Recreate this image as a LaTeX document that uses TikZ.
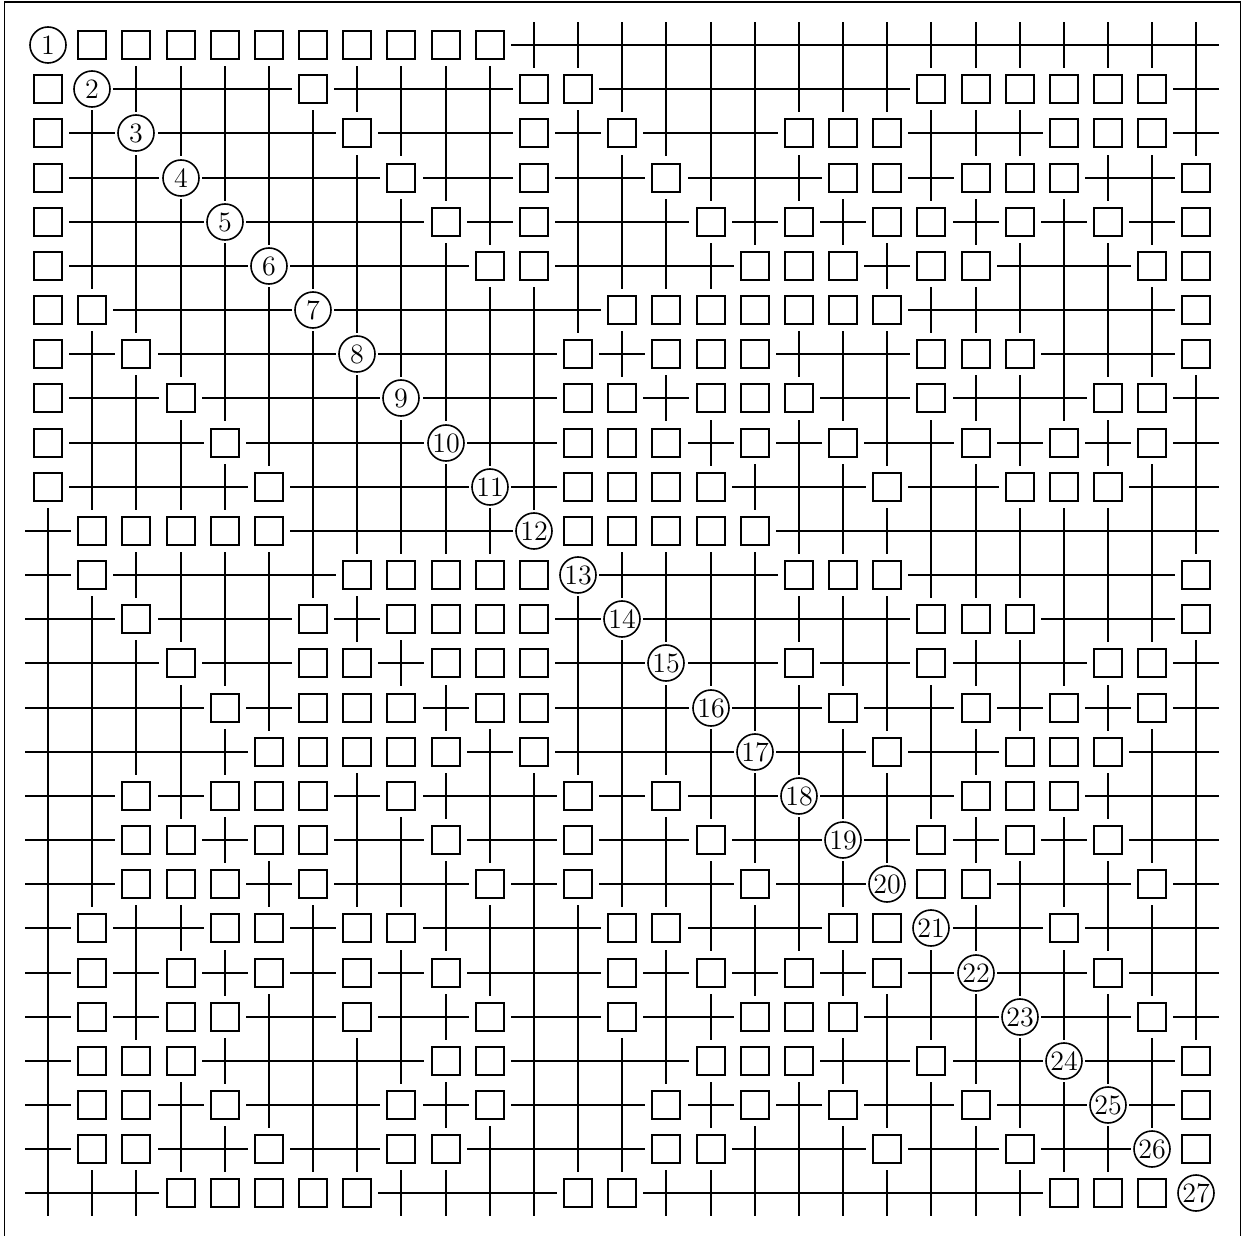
\documentclass[tikz,border=0pt]{standalone}
\begin{document}
\begin{tikzpicture}[x=0.5pt,y=-0.5pt,
  boxnode/.style={draw,rectangle,minimum size=14.2pt,inner sep=0pt,line width=0.8pt},
  circnode/.style={draw,circle,minimum size=18pt,inner sep=0pt,line width=0.8pt,font=\fontsize{14}{16}\selectfont},
  wire/.style={line width=0.8pt,line cap=butt},
  frame/.style={line width=0.9pt}]
\useasboundingbox (0,0) rectangle (1250,1236);
\draw[frame] (4.5,1240) -- (4.5,2) -- (1240.5,2) -- (1240.5,1240);
\foreach \row [count=\i] in {%
{O,B,B,B,B,B,B,B,B,B,B,X,X,X,X,X,X,X,X,X,X,X,X,X,X,X,X},%
{B,O,X,X,X,X,B,X,X,X,X,B,B,X,X,X,X,X,X,X,B,B,B,B,B,B,X},%
{B,X,O,X,X,X,X,B,X,X,X,B,X,B,X,X,X,B,B,B,X,X,X,B,B,B,X},%
{B,X,X,O,X,X,X,X,B,X,X,B,X,X,B,X,X,X,B,B,X,B,B,B,X,X,B},%
{B,X,X,X,O,X,X,X,X,B,X,B,X,X,X,B,X,B,X,B,B,X,B,X,B,X,B},%
{B,X,X,X,X,O,X,X,X,X,B,B,X,X,X,X,B,B,B,X,B,B,X,X,X,B,B},%
{B,B,X,X,X,X,O,X,X,X,X,X,X,B,B,B,B,B,B,B,X,X,X,X,X,X,B},%
{B,X,B,X,X,X,X,O,X,X,X,X,B,X,B,B,B,X,X,X,B,B,B,X,X,X,B},%
{B,X,X,B,X,X,X,X,O,X,X,X,B,B,X,B,B,B,X,X,B,X,X,X,B,B,X},%
{B,X,X,X,B,X,X,X,X,O,X,X,B,B,B,X,B,X,B,X,X,B,X,B,X,B,X},%
{B,X,X,X,X,B,X,X,X,X,O,X,B,B,B,B,X,X,X,B,X,X,B,B,B,X,X},%
{X,B,B,B,B,B,X,X,X,X,X,O,B,B,B,B,B,X,X,X,X,X,X,X,X,X,X},%
{X,B,X,X,X,X,X,B,B,B,B,B,O,X,X,X,X,B,B,B,X,X,X,X,X,X,B},%
{X,X,B,X,X,X,B,X,B,B,B,B,X,O,X,X,X,X,X,X,B,B,B,X,X,X,B},%
{X,X,X,B,X,X,B,B,X,B,B,B,X,X,O,X,X,B,X,X,B,X,X,X,B,B,X},%
{X,X,X,X,B,X,B,B,B,X,B,B,X,X,X,O,X,X,B,X,X,B,X,B,X,B,X},%
{X,X,X,X,X,B,B,B,B,B,X,B,X,X,X,X,O,X,X,B,X,X,B,B,B,X,X},%
{X,X,B,X,B,B,B,X,B,X,X,X,B,X,B,X,X,O,X,X,X,B,B,B,X,X,X},%
{X,X,B,B,X,B,B,X,X,B,X,X,B,X,X,B,X,X,O,X,B,X,B,X,B,X,X},%
{X,X,B,B,B,X,B,X,X,X,B,X,B,X,X,X,B,X,X,O,B,B,X,X,X,B,X},%
{X,B,X,X,B,B,X,B,B,X,X,X,X,B,B,X,X,X,B,B,O,X,X,B,X,X,X},%
{X,B,X,B,X,B,X,B,X,B,X,X,X,B,X,B,X,B,X,B,X,O,X,X,B,X,X},%
{X,B,X,B,B,X,X,B,X,X,B,X,X,B,X,X,B,B,B,X,X,X,O,X,X,B,X},%
{X,B,B,B,X,X,X,X,X,B,B,X,X,X,X,B,B,B,X,X,B,X,X,O,X,X,B},%
{X,B,B,X,B,X,X,X,B,X,B,X,X,X,B,X,B,X,B,X,X,B,X,X,O,X,B},%
{X,B,B,X,X,B,X,X,B,B,X,X,X,X,B,B,X,X,X,B,X,X,B,X,X,O,B},%
{X,X,X,B,B,B,B,B,X,X,X,X,B,B,X,X,X,X,X,X,X,X,X,B,B,B,O}%
}{
  \foreach \c [count=\j] in \row {
    \pgfmathsetmacro\xx{round(48+(\j-1)*44.17)}
    \pgfmathsetmacro\yy{round(45+(\i-1)*44.17)}
    \if\c O\node[circnode] (c\i) at (\xx,\yy) {\i};\fi
    \if\c B\node[boxnode] (b\i-\j) at (\xx,\yy) {};\fi
    \if\c X\draw[wire] (\xx-22.6,\yy) -- (\xx+22.6,\yy) (\xx,\yy-22.6) -- (\xx,\yy+22.6);\fi
  }
}
\end{tikzpicture}
\end{document}
